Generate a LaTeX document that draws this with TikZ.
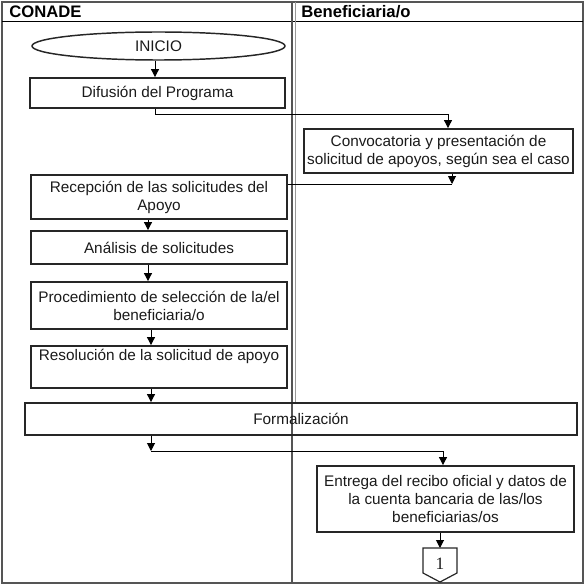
\documentclass[tikz,border=0pt]{standalone}
\usepackage{fontspec}
\setmainfont{Liberation Sans}
\newfontfamily\numfont{Liberation Serif}
\usepackage{tikz}
\usetikzlibrary{arrows.meta,positioning,calc,shapes.geometric}
\usepackage{xcolor}
\definecolor{ink}{HTML}{1A1A1A}
\definecolor{edge}{HTML}{262626}
\definecolor{frame}{HTML}{555555}

\begin{document}
\begin{tikzpicture}[x=0.75pt, y=-0.75pt, >={Triangle[width=6pt,length=6pt]},
  txt/.style={font=\fontsize{11.5}{13.5}\selectfont, text=ink},
  hdr/.style={font=\fontsize{12.5}{14}\selectfont\bfseries, text=black, anchor=west, inner sep=0pt},
  box/.style={txt, draw=edge, line width=1.4pt, align=center, inner sep=0pt},
  link/.style={draw=black, line width=0.75pt}]
\useasboundingbox (0,0) rectangle (585,588);
\draw[frame, line width=1.1pt] (2,2) rectangle (583,583);
\draw[black, line width=0.75pt] (2,22) -- (583,22);
\draw[frame, line width=0.9pt] (292,2) -- (292,583);
\draw[frame!60, line width=0.75pt] (295,2) -- (295,403);
\node[hdr] (conade) at (9,12) {CONADE};
\node[hdr] (benef) at (301,12) {Beneficiaria/o};

\node[box, ellipse, line width=1.1pt, minimum width=189.75pt, minimum height=21pt] (ini) at (158.5,46) {INICIO};
\node[box, minimum width=191.25pt, minimum height=22.5pt] (dif) at (157.5,93) {Difusión del Programa};
\node[box, minimum width=201.75pt, minimum height=33pt] (conv) at (438.5,151) {Convocatoria y presentación de\\solicitud de apoyos, según sea el caso};
\node[box, minimum width=192pt, minimum height=33pt] (rec) at (159,197) {Recepción de las solicitudes del\\Apoyo};
\node[box, minimum width=192pt, minimum height=24.75pt] (ana) at (159,247.5) {Análisis de solicitudes};
\node[box, minimum width=192pt, minimum height=35.25pt] (proc) at (159,305.5) {Procedimiento de selección de la/el\\beneficiaria/o};
\node[box, minimum width=192pt, minimum height=31.5pt] (res) at (159,367) {Resolución de la solicitud de apoyo\\\strut};
\node[box, minimum width=414pt, minimum height=24pt] (form) at (301,419) {Formalización};
\node[box, minimum width=192.75pt, minimum height=49.5pt] (ent) at (445.5,499) {Entrega del recibo oficial y datos de\\la cuenta bancaria de las/los\\beneficiarias/os};

\coordinate (xa) at (148,0);
\coordinate (xb) at (151,0);
\coordinate (xc) at (155,0);
\coordinate (xd) at (448,0);
\coordinate (xe) at (452,0);
\coordinate (xf) at (443,0);
\coordinate (ya) at (0,115);
\coordinate (yb) at (0,184);
\coordinate (yc) at (0,451);
\coordinate (pgtop) at (440,548);

\draw[link, ->] (ini.south -| xc) -- (dif.north -| xc);
\draw[link, ->] (dif.south -| xc) |- (ya -| xd) -- (conv.north -| xd);
\draw[link, ->] (conv.south -| xe) -- (yb -| xe);
\draw[link] (yb -| xe) -- (yb -| rec.east);
\draw[link, ->] (rec.south -| xa) -- (ana.north -| xa);
\draw[link, ->] (ana.south -| xa) -- (proc.north -| xa);
\draw[link, ->] (proc.south -| xb) -- (res.north -| xb);
\draw[link, ->] (res.south -| xb) -- (form.north -| xb);
\draw[link, ->] (form.south -| xb) -- (yc -| xb);
\draw[link, ->] (yc -| xb) -| (ent.north -| xf);
\draw[link, ->] (ent.south -| pgtop) -- (pgtop);

\draw[edge, line width=0.9pt] (pgtop) -- (457,548) -- (457,573) -- (440,582) -- (423,573) -- (423,548) -- cycle;
\node[font=\fontsize{13}{13}\selectfont\numfont, text=ink] (pg) at (440,564) {1};
\end{tikzpicture}
\end{document}
